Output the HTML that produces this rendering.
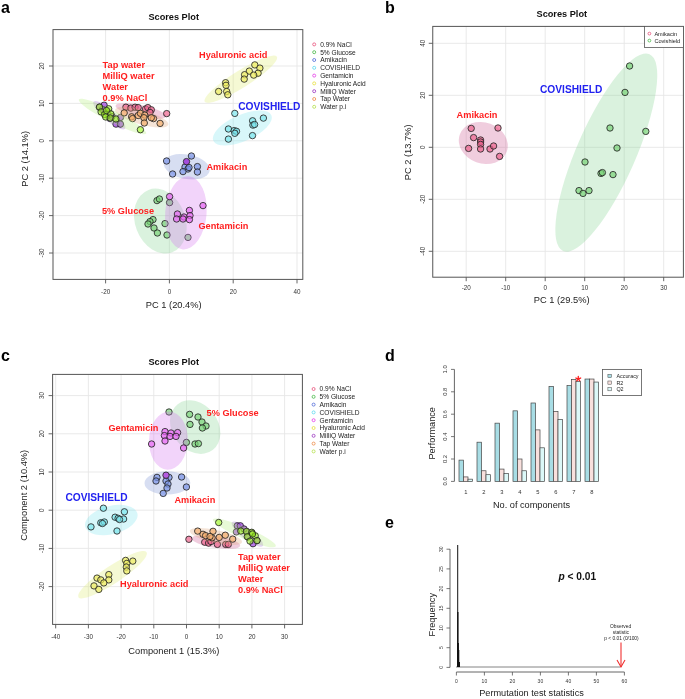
<!DOCTYPE html><html><head><meta charset="utf-8"><style>html,body{margin:0;padding:0;background:#fff;width:685px;height:699px;overflow:hidden;}svg{display:block;will-change:transform;}text{font-family:"Liberation Sans",sans-serif;}</style></head><body><svg width="685" height="699" viewBox="0 0 685 699" font-family="Liberation Sans, sans-serif">
<rect width="685" height="699" fill="#fff"/>
<rect x="53" y="29.6" width="249.8" height="249.8" fill="#fff"/>
<line x1="105.6" y1="29.6" x2="105.6" y2="279.4" stroke="#e6e6e6" stroke-width="0.9"/>
<line x1="169.4" y1="29.6" x2="169.4" y2="279.4" stroke="#e6e6e6" stroke-width="0.9"/>
<line x1="233.2" y1="29.6" x2="233.2" y2="279.4" stroke="#e6e6e6" stroke-width="0.9"/>
<line x1="297.0" y1="29.6" x2="297.0" y2="279.4" stroke="#e6e6e6" stroke-width="0.9"/>
<line x1="53" y1="66.0" x2="302.8" y2="66.0" stroke="#e6e6e6" stroke-width="0.9"/>
<line x1="53" y1="103.4" x2="302.8" y2="103.4" stroke="#e6e6e6" stroke-width="0.9"/>
<line x1="53" y1="140.8" x2="302.8" y2="140.8" stroke="#e6e6e6" stroke-width="0.9"/>
<line x1="53" y1="178.2" x2="302.8" y2="178.2" stroke="#e6e6e6" stroke-width="0.9"/>
<line x1="53" y1="215.6" x2="302.8" y2="215.6" stroke="#e6e6e6" stroke-width="0.9"/>
<line x1="53" y1="253.0" x2="302.8" y2="253.0" stroke="#e6e6e6" stroke-width="0.9"/>
<ellipse cx="140.8" cy="111.1" rx="25.8" ry="6" transform="rotate(12.1 140.8 111.1)" fill="#cd5891" fill-opacity="0.3"/>
<circle cx="125.9" cy="107.2" r="3.2" fill="#ed628d" fill-opacity="0.7" stroke="#262626" stroke-width="0.85"/>
<circle cx="130.8" cy="108.1" r="3.2" fill="#ed628d" fill-opacity="0.7" stroke="#262626" stroke-width="0.85"/>
<circle cx="135.1" cy="107.2" r="3.2" fill="#ed628d" fill-opacity="0.7" stroke="#262626" stroke-width="0.85"/>
<circle cx="138.2" cy="107.6" r="3.2" fill="#ed628d" fill-opacity="0.7" stroke="#262626" stroke-width="0.85"/>
<circle cx="145.6" cy="108.9" r="3.2" fill="#ed628d" fill-opacity="0.7" stroke="#262626" stroke-width="0.85"/>
<circle cx="147.8" cy="107.6" r="3.2" fill="#ed628d" fill-opacity="0.7" stroke="#262626" stroke-width="0.85"/>
<circle cx="151.3" cy="109.8" r="3.2" fill="#ed628d" fill-opacity="0.7" stroke="#262626" stroke-width="0.85"/>
<circle cx="150" cy="112.4" r="3.2" fill="#ed628d" fill-opacity="0.7" stroke="#262626" stroke-width="0.85"/>
<circle cx="166.7" cy="113.6" r="3.2" fill="#ed628d" fill-opacity="0.7" stroke="#262626" stroke-width="0.85"/>
<ellipse cx="160.35" cy="221.1" rx="33.4" ry="25.2" transform="rotate(69.2 160.35 221.1)" fill="#84d491" fill-opacity="0.3"/>
<circle cx="157" cy="200.6" r="3.2" fill="#79d377" fill-opacity="0.7" stroke="#262626" stroke-width="0.85"/>
<circle cx="159.4" cy="199" r="3.2" fill="#79d377" fill-opacity="0.7" stroke="#262626" stroke-width="0.85"/>
<circle cx="169.6" cy="202.6" r="3.2" fill="#79d377" fill-opacity="0.7" stroke="#262626" stroke-width="0.85"/>
<circle cx="153" cy="219.6" r="3.2" fill="#79d377" fill-opacity="0.7" stroke="#262626" stroke-width="0.85"/>
<circle cx="150" cy="221.6" r="3.2" fill="#79d377" fill-opacity="0.7" stroke="#262626" stroke-width="0.85"/>
<circle cx="148" cy="224" r="3.2" fill="#79d377" fill-opacity="0.7" stroke="#262626" stroke-width="0.85"/>
<circle cx="154" cy="228" r="3.2" fill="#79d377" fill-opacity="0.7" stroke="#262626" stroke-width="0.85"/>
<circle cx="157.4" cy="233" r="3.2" fill="#79d377" fill-opacity="0.7" stroke="#262626" stroke-width="0.85"/>
<circle cx="165" cy="223.6" r="3.2" fill="#79d377" fill-opacity="0.7" stroke="#262626" stroke-width="0.85"/>
<circle cx="167" cy="235" r="3.2" fill="#79d377" fill-opacity="0.7" stroke="#262626" stroke-width="0.85"/>
<circle cx="188" cy="237.4" r="3.2" fill="#79d377" fill-opacity="0.7" stroke="#262626" stroke-width="0.85"/>
<ellipse cx="186.7" cy="166.75" rx="23.3" ry="12.2" transform="rotate(10.8 186.7 166.75)" fill="#7a91d4" fill-opacity="0.3"/>
<circle cx="166.6" cy="161" r="3.2" fill="#7a94e8" fill-opacity="0.7" stroke="#262626" stroke-width="0.85"/>
<circle cx="191.4" cy="156" r="3.2" fill="#7a94e8" fill-opacity="0.7" stroke="#262626" stroke-width="0.85"/>
<circle cx="185" cy="167" r="3.2" fill="#7a94e8" fill-opacity="0.7" stroke="#262626" stroke-width="0.85"/>
<circle cx="188" cy="169" r="3.2" fill="#7a94e8" fill-opacity="0.7" stroke="#262626" stroke-width="0.85"/>
<circle cx="183" cy="171.6" r="3.2" fill="#7a94e8" fill-opacity="0.7" stroke="#262626" stroke-width="0.85"/>
<circle cx="197.4" cy="166.6" r="3.2" fill="#7a94e8" fill-opacity="0.7" stroke="#262626" stroke-width="0.85"/>
<circle cx="197.4" cy="172" r="3.2" fill="#7a94e8" fill-opacity="0.7" stroke="#262626" stroke-width="0.85"/>
<circle cx="172.6" cy="174" r="3.2" fill="#7a94e8" fill-opacity="0.7" stroke="#262626" stroke-width="0.85"/>
<circle cx="189" cy="167.5" r="3.2" fill="#7a94e8" fill-opacity="0.7" stroke="#262626" stroke-width="0.85"/>
<ellipse cx="242.35" cy="128" rx="31.7" ry="13.1" transform="rotate(-23.8 242.35 128)" fill="#7de4ee" fill-opacity="0.3"/>
<circle cx="234.8" cy="113.4" r="3.2" fill="#7ae6ec" fill-opacity="0.7" stroke="#262626" stroke-width="0.85"/>
<circle cx="263.4" cy="118.1" r="3.2" fill="#7ae6ec" fill-opacity="0.7" stroke="#262626" stroke-width="0.85"/>
<circle cx="252.6" cy="120.8" r="3.2" fill="#7ae6ec" fill-opacity="0.7" stroke="#262626" stroke-width="0.85"/>
<circle cx="252.9" cy="125.1" r="3.2" fill="#7ae6ec" fill-opacity="0.7" stroke="#262626" stroke-width="0.85"/>
<circle cx="254.6" cy="124.5" r="3.2" fill="#7ae6ec" fill-opacity="0.7" stroke="#262626" stroke-width="0.85"/>
<circle cx="228.4" cy="129" r="3.2" fill="#7ae6ec" fill-opacity="0.7" stroke="#262626" stroke-width="0.85"/>
<circle cx="234.2" cy="130.6" r="3.2" fill="#7ae6ec" fill-opacity="0.7" stroke="#262626" stroke-width="0.85"/>
<circle cx="236.5" cy="131.3" r="3.2" fill="#7ae6ec" fill-opacity="0.7" stroke="#262626" stroke-width="0.85"/>
<circle cx="234.8" cy="133.3" r="3.2" fill="#7ae6ec" fill-opacity="0.7" stroke="#262626" stroke-width="0.85"/>
<circle cx="228.4" cy="139.1" r="3.2" fill="#7ae6ec" fill-opacity="0.7" stroke="#262626" stroke-width="0.85"/>
<circle cx="252.5" cy="135.6" r="3.2" fill="#7ae6ec" fill-opacity="0.7" stroke="#262626" stroke-width="0.85"/>
<ellipse cx="185.9" cy="212.9" rx="36.7" ry="20.7" transform="rotate(94.8 185.9 212.9)" fill="#d470ee" fill-opacity="0.3"/>
<circle cx="169.6" cy="196.6" r="3.2" fill="#e866f3" fill-opacity="0.7" stroke="#262626" stroke-width="0.85"/>
<circle cx="203" cy="205.6" r="3.2" fill="#e866f3" fill-opacity="0.7" stroke="#262626" stroke-width="0.85"/>
<circle cx="189.4" cy="210.4" r="3.2" fill="#e866f3" fill-opacity="0.7" stroke="#262626" stroke-width="0.85"/>
<circle cx="177.4" cy="214" r="3.2" fill="#e866f3" fill-opacity="0.7" stroke="#262626" stroke-width="0.85"/>
<circle cx="176.6" cy="219" r="3.2" fill="#e866f3" fill-opacity="0.7" stroke="#262626" stroke-width="0.85"/>
<circle cx="184" cy="217" r="3.2" fill="#e866f3" fill-opacity="0.7" stroke="#262626" stroke-width="0.85"/>
<circle cx="190" cy="215.6" r="3.2" fill="#e866f3" fill-opacity="0.7" stroke="#262626" stroke-width="0.85"/>
<circle cx="189.4" cy="219.6" r="3.2" fill="#e866f3" fill-opacity="0.7" stroke="#262626" stroke-width="0.85"/>
<circle cx="183" cy="219" r="3.2" fill="#e866f3" fill-opacity="0.7" stroke="#262626" stroke-width="0.85"/>
<ellipse cx="240.8" cy="79.2" rx="42.5" ry="8.5" transform="rotate(-31.9 240.8 79.2)" fill="#deeb70" fill-opacity="0.3"/>
<circle cx="254.8" cy="64.9" r="3.2" fill="#eeec5f" fill-opacity="0.7" stroke="#262626" stroke-width="0.85"/>
<circle cx="259.9" cy="68.1" r="3.2" fill="#eeec5f" fill-opacity="0.7" stroke="#262626" stroke-width="0.85"/>
<circle cx="249.3" cy="71.1" r="3.2" fill="#eeec5f" fill-opacity="0.7" stroke="#262626" stroke-width="0.85"/>
<circle cx="258.1" cy="73.2" r="3.2" fill="#eeec5f" fill-opacity="0.7" stroke="#262626" stroke-width="0.85"/>
<circle cx="253.7" cy="75.1" r="3.2" fill="#eeec5f" fill-opacity="0.7" stroke="#262626" stroke-width="0.85"/>
<circle cx="244.6" cy="74.7" r="3.2" fill="#eeec5f" fill-opacity="0.7" stroke="#262626" stroke-width="0.85"/>
<circle cx="244.2" cy="79.1" r="3.2" fill="#eeec5f" fill-opacity="0.7" stroke="#262626" stroke-width="0.85"/>
<circle cx="225.6" cy="82.7" r="3.2" fill="#eeec5f" fill-opacity="0.7" stroke="#262626" stroke-width="0.85"/>
<circle cx="226" cy="85.3" r="3.2" fill="#eeec5f" fill-opacity="0.7" stroke="#262626" stroke-width="0.85"/>
<circle cx="218.6" cy="91.5" r="3.2" fill="#eeec5f" fill-opacity="0.7" stroke="#262626" stroke-width="0.85"/>
<circle cx="226.7" cy="91.5" r="3.2" fill="#eeec5f" fill-opacity="0.7" stroke="#262626" stroke-width="0.85"/>
<circle cx="227.8" cy="94.8" r="3.2" fill="#eeec5f" fill-opacity="0.7" stroke="#262626" stroke-width="0.85"/>
<ellipse cx="109.3" cy="115.2" rx="20.7" ry="5.6" transform="rotate(41 109.3 115.2)" fill="#9e69d4" fill-opacity="0.3"/>
<circle cx="104.1" cy="105.2" r="3.2" fill="#a043e1" fill-opacity="0.7" stroke="#262626" stroke-width="0.85"/>
<circle cx="99.4" cy="107.2" r="3.2" fill="#a043e1" fill-opacity="0.7" stroke="#262626" stroke-width="0.85"/>
<circle cx="109.9" cy="118.4" r="3.2" fill="#a043e1" fill-opacity="0.7" stroke="#262626" stroke-width="0.85"/>
<circle cx="104.5" cy="110.5" r="3.2" fill="#a043e1" fill-opacity="0.7" stroke="#262626" stroke-width="0.85"/>
<circle cx="107.5" cy="113.5" r="3.2" fill="#a043e1" fill-opacity="0.7" stroke="#262626" stroke-width="0.85"/>
<circle cx="102.5" cy="109.5" r="3.2" fill="#a043e1" fill-opacity="0.7" stroke="#262626" stroke-width="0.85"/>
<circle cx="112" cy="116.5" r="3.2" fill="#a043e1" fill-opacity="0.7" stroke="#262626" stroke-width="0.85"/>
<circle cx="120.4" cy="117.5" r="3.2" fill="#a043e1" fill-opacity="0.7" stroke="#262626" stroke-width="0.85"/>
<circle cx="116" cy="124.1" r="3.2" fill="#a043e1" fill-opacity="0.7" stroke="#262626" stroke-width="0.85"/>
<circle cx="120.4" cy="124.1" r="3.2" fill="#a043e1" fill-opacity="0.7" stroke="#262626" stroke-width="0.85"/>
<ellipse cx="141.7" cy="117.2" rx="27.7" ry="7.3" transform="rotate(16 141.7 117.2)" fill="#dea57a" fill-opacity="0.3"/>
<circle cx="124.2" cy="112.9" r="3.2" fill="#f5ae6c" fill-opacity="0.7" stroke="#262626" stroke-width="0.85"/>
<circle cx="131.6" cy="116.8" r="3.2" fill="#f5ae6c" fill-opacity="0.7" stroke="#262626" stroke-width="0.85"/>
<circle cx="132.5" cy="118.6" r="3.2" fill="#f5ae6c" fill-opacity="0.7" stroke="#262626" stroke-width="0.85"/>
<circle cx="138.2" cy="115.5" r="3.2" fill="#f5ae6c" fill-opacity="0.7" stroke="#262626" stroke-width="0.85"/>
<circle cx="140.4" cy="113.3" r="3.2" fill="#f5ae6c" fill-opacity="0.7" stroke="#262626" stroke-width="0.85"/>
<circle cx="144.8" cy="115.1" r="3.2" fill="#f5ae6c" fill-opacity="0.7" stroke="#262626" stroke-width="0.85"/>
<circle cx="143.9" cy="117.7" r="3.2" fill="#f5ae6c" fill-opacity="0.7" stroke="#262626" stroke-width="0.85"/>
<circle cx="153.5" cy="118.6" r="3.2" fill="#f5ae6c" fill-opacity="0.7" stroke="#262626" stroke-width="0.85"/>
<circle cx="151.3" cy="117.7" r="3.2" fill="#f5ae6c" fill-opacity="0.7" stroke="#262626" stroke-width="0.85"/>
<circle cx="144.3" cy="123" r="3.2" fill="#f5ae6c" fill-opacity="0.7" stroke="#262626" stroke-width="0.85"/>
<circle cx="160.1" cy="123.4" r="3.2" fill="#f5ae6c" fill-opacity="0.7" stroke="#262626" stroke-width="0.85"/>
<ellipse cx="112.5" cy="116.5" rx="37.7" ry="5.8" transform="rotate(26.7 112.5 116.5)" fill="#b2ee7a" fill-opacity="0.3"/>
<circle cx="99.5" cy="107.1" r="3.2" fill="#9cfa18" fill-opacity="0.55" stroke="#262626" stroke-width="0.85"/>
<circle cx="108.7" cy="108.8" r="3.2" fill="#9cfa18" fill-opacity="0.55" stroke="#262626" stroke-width="0.85"/>
<circle cx="101.1" cy="111.9" r="3.2" fill="#9cfa18" fill-opacity="0.55" stroke="#262626" stroke-width="0.85"/>
<circle cx="104.6" cy="114.4" r="3.2" fill="#9cfa18" fill-opacity="0.55" stroke="#262626" stroke-width="0.85"/>
<circle cx="110.8" cy="113.9" r="3.2" fill="#9cfa18" fill-opacity="0.55" stroke="#262626" stroke-width="0.85"/>
<circle cx="105.7" cy="117" r="3.2" fill="#9cfa18" fill-opacity="0.55" stroke="#262626" stroke-width="0.85"/>
<circle cx="110.3" cy="118" r="3.2" fill="#9cfa18" fill-opacity="0.55" stroke="#262626" stroke-width="0.85"/>
<circle cx="115.9" cy="119" r="3.2" fill="#9cfa18" fill-opacity="0.55" stroke="#262626" stroke-width="0.85"/>
<circle cx="140.4" cy="129.7" r="3.2" fill="#9cfa18" fill-opacity="0.55" stroke="#262626" stroke-width="0.85"/>
<circle cx="106.5" cy="110.5" r="3.2" fill="#9cfa18" fill-opacity="0.55" stroke="#262626" stroke-width="0.85"/>
<circle cx="186.5" cy="161.6" r="3.2" fill="#a44cdc" stroke="#262626" stroke-width="0.85"/>
<rect x="53" y="29.6" width="249.8" height="249.8" fill="none" stroke="#555" stroke-width="1"/>
<line x1="105.6" y1="279.4" x2="105.6" y2="283.4" stroke="#555" stroke-width="0.9"/>
<text x="105.6" y="294.4" font-size="6.3" text-anchor="middle" fill="#333">-20</text>
<line x1="169.4" y1="279.4" x2="169.4" y2="283.4" stroke="#555" stroke-width="0.9"/>
<text x="169.4" y="294.4" font-size="6.3" text-anchor="middle" fill="#333">0</text>
<line x1="233.2" y1="279.4" x2="233.2" y2="283.4" stroke="#555" stroke-width="0.9"/>
<text x="233.2" y="294.4" font-size="6.3" text-anchor="middle" fill="#333">20</text>
<line x1="297.0" y1="279.4" x2="297.0" y2="283.4" stroke="#555" stroke-width="0.9"/>
<text x="297.0" y="294.4" font-size="6.3" text-anchor="middle" fill="#333">40</text>
<line x1="49" y1="66.0" x2="53" y2="66.0" stroke="#555" stroke-width="0.9"/>
<text x="44.4" y="66.0" font-size="6.3" text-anchor="middle" fill="#333" transform="rotate(-90 44.4 66.0)">20</text>
<line x1="49" y1="103.4" x2="53" y2="103.4" stroke="#555" stroke-width="0.9"/>
<text x="44.4" y="103.4" font-size="6.3" text-anchor="middle" fill="#333" transform="rotate(-90 44.4 103.4)">10</text>
<line x1="49" y1="140.8" x2="53" y2="140.8" stroke="#555" stroke-width="0.9"/>
<text x="44.4" y="140.8" font-size="6.3" text-anchor="middle" fill="#333" transform="rotate(-90 44.4 140.8)">0</text>
<line x1="49" y1="178.2" x2="53" y2="178.2" stroke="#555" stroke-width="0.9"/>
<text x="44.4" y="178.2" font-size="6.3" text-anchor="middle" fill="#333" transform="rotate(-90 44.4 178.2)">-10</text>
<line x1="49" y1="215.6" x2="53" y2="215.6" stroke="#555" stroke-width="0.9"/>
<text x="44.4" y="215.6" font-size="6.3" text-anchor="middle" fill="#333" transform="rotate(-90 44.4 215.6)">-20</text>
<line x1="49" y1="253.0" x2="53" y2="253.0" stroke="#555" stroke-width="0.9"/>
<text x="44.4" y="253.0" font-size="6.3" text-anchor="middle" fill="#333" transform="rotate(-90 44.4 253.0)">-30</text>
<text x="173.7" y="20" font-size="9.2" text-anchor="middle" font-weight="bold" fill="#111">Scores Plot</text>
<text x="173.7" y="308" font-size="9.3" text-anchor="middle" fill="#222">PC 1 (20.4%)</text>
<text x="27.9" y="158.9" font-size="9.3" text-anchor="middle" fill="#222" transform="rotate(-90 27.9 158.9)">PC 2 (14.1%)</text>
<circle cx="314.2" cy="44.4" r="1.5" fill="none" stroke="#e8507a" stroke-width="0.8"/>
<text x="320.2" y="46.7" font-size="6.6" text-anchor="start" fill="#222">0.9% NaCl</text>
<circle cx="314.2" cy="52.2" r="1.5" fill="none" stroke="#46b846" stroke-width="0.8"/>
<text x="320.2" y="54.5" font-size="6.6" text-anchor="start" fill="#222">5% Glucose</text>
<circle cx="314.2" cy="60.0" r="1.5" fill="none" stroke="#4f6ad8" stroke-width="0.8"/>
<text x="320.2" y="62.3" font-size="6.6" text-anchor="start" fill="#222">Amikacin</text>
<circle cx="314.2" cy="67.8" r="1.5" fill="none" stroke="#5ad8f0" stroke-width="0.8"/>
<text x="320.2" y="70.1" font-size="6.6" text-anchor="start" fill="#222">COVISHIELD</text>
<circle cx="314.2" cy="75.6" r="1.5" fill="none" stroke="#e43be6" stroke-width="0.8"/>
<text x="320.2" y="77.9" font-size="6.6" text-anchor="start" fill="#222">Gentamicin</text>
<circle cx="314.2" cy="83.4" r="1.5" fill="none" stroke="#e6df3a" stroke-width="0.8"/>
<text x="320.2" y="85.7" font-size="6.6" text-anchor="start" fill="#222">Hyaluronic Acid</text>
<circle cx="314.2" cy="91.2" r="1.5" fill="none" stroke="#9a35c0" stroke-width="0.8"/>
<text x="320.2" y="93.5" font-size="6.6" text-anchor="start" fill="#222">MilliQ Water</text>
<circle cx="314.2" cy="99.0" r="1.5" fill="none" stroke="#ee8a46" stroke-width="0.8"/>
<text x="320.2" y="101.3" font-size="6.6" text-anchor="start" fill="#222">Tap Water</text>
<circle cx="314.2" cy="106.8" r="1.5" fill="none" stroke="#b4e04a" stroke-width="0.8"/>
<text x="320.2" y="109.1" font-size="6.6" text-anchor="start" fill="#222">Water p.i</text>
<text x="102.6" y="68.2" font-size="9.25" text-anchor="start" font-weight="bold" fill="#ff2020">Tap water</text>
<text x="102.6" y="79.05" font-size="9.25" text-anchor="start" font-weight="bold" fill="#ff2020">MilliQ water</text>
<text x="102.6" y="89.9" font-size="9.25" text-anchor="start" font-weight="bold" fill="#ff2020">Water</text>
<text x="102.6" y="100.75" font-size="9.25" text-anchor="start" font-weight="bold" fill="#ff2020">0.9% NaCl</text>
<text x="199" y="58.2" font-size="9.2" text-anchor="start" font-weight="bold" fill="#ff2020">Hyaluronic acid</text>
<text x="238.2" y="109.5" font-size="10.2" text-anchor="start" font-weight="bold" fill="#2121f0">COVISHIELD</text>
<text x="206.4" y="170" font-size="9.2" text-anchor="start" font-weight="bold" fill="#ff2020">Amikacin</text>
<text x="102" y="213.8" font-size="9.2" text-anchor="start" font-weight="bold" fill="#ff2020">5% Glucose</text>
<text x="198.4" y="228.8" font-size="9.2" text-anchor="start" font-weight="bold" fill="#ff2020">Gentamicin</text>
<rect x="432.75" y="26.4" width="250.65" height="250.8" fill="#fff"/>
<line x1="466.2" y1="26.4" x2="466.2" y2="277.2" stroke="#e6e6e6" stroke-width="0.9"/>
<line x1="505.7" y1="26.4" x2="505.7" y2="277.2" stroke="#e6e6e6" stroke-width="0.9"/>
<line x1="545.2" y1="26.4" x2="545.2" y2="277.2" stroke="#e6e6e6" stroke-width="0.9"/>
<line x1="584.7" y1="26.4" x2="584.7" y2="277.2" stroke="#e6e6e6" stroke-width="0.9"/>
<line x1="624.2" y1="26.4" x2="624.2" y2="277.2" stroke="#e6e6e6" stroke-width="0.9"/>
<line x1="663.7" y1="26.4" x2="663.7" y2="277.2" stroke="#e6e6e6" stroke-width="0.9"/>
<line x1="432.75" y1="43.3" x2="683.4" y2="43.3" stroke="#e6e6e6" stroke-width="0.9"/>
<line x1="432.75" y1="95.3" x2="683.4" y2="95.3" stroke="#e6e6e6" stroke-width="0.9"/>
<line x1="432.75" y1="147.3" x2="683.4" y2="147.3" stroke="#e6e6e6" stroke-width="0.9"/>
<line x1="432.75" y1="199.3" x2="683.4" y2="199.3" stroke="#e6e6e6" stroke-width="0.9"/>
<line x1="432.75" y1="251.3" x2="683.4" y2="251.3" stroke="#e6e6e6" stroke-width="0.9"/>
<ellipse cx="483.3" cy="143" rx="25" ry="20.5" transform="rotate(20 483.3 143)" fill="#cd5891" fill-opacity="0.3"/>
<ellipse cx="606.3" cy="152.6" rx="107.5" ry="29.5" transform="rotate(-66.3 606.3 152.6)" fill="#84d491" fill-opacity="0.3"/>
<circle cx="471.2" cy="128.4" r="3.2" fill="#ed628d" fill-opacity="0.7" stroke="#262626" stroke-width="0.85"/>
<circle cx="498" cy="128" r="3.2" fill="#ed628d" fill-opacity="0.7" stroke="#262626" stroke-width="0.85"/>
<circle cx="473.6" cy="137.6" r="3.2" fill="#ed628d" fill-opacity="0.7" stroke="#262626" stroke-width="0.85"/>
<circle cx="480.6" cy="140" r="3.2" fill="#ed628d" fill-opacity="0.7" stroke="#262626" stroke-width="0.85"/>
<circle cx="480.6" cy="142" r="3.2" fill="#ed628d" fill-opacity="0.7" stroke="#262626" stroke-width="0.85"/>
<circle cx="480.6" cy="144.4" r="3.2" fill="#ed628d" fill-opacity="0.7" stroke="#262626" stroke-width="0.85"/>
<circle cx="468.6" cy="148.4" r="3.2" fill="#ed628d" fill-opacity="0.7" stroke="#262626" stroke-width="0.85"/>
<circle cx="480.6" cy="149" r="3.2" fill="#ed628d" fill-opacity="0.7" stroke="#262626" stroke-width="0.85"/>
<circle cx="490" cy="149" r="3.2" fill="#ed628d" fill-opacity="0.7" stroke="#262626" stroke-width="0.85"/>
<circle cx="493.6" cy="146" r="3.2" fill="#ed628d" fill-opacity="0.7" stroke="#262626" stroke-width="0.85"/>
<circle cx="499.6" cy="156.4" r="3.2" fill="#ed628d" fill-opacity="0.7" stroke="#262626" stroke-width="0.85"/>
<circle cx="629.6" cy="66" r="3.2" fill="#79d377" fill-opacity="0.7" stroke="#262626" stroke-width="0.85"/>
<circle cx="625" cy="92.4" r="3.2" fill="#79d377" fill-opacity="0.7" stroke="#262626" stroke-width="0.85"/>
<circle cx="610" cy="128" r="3.2" fill="#79d377" fill-opacity="0.7" stroke="#262626" stroke-width="0.85"/>
<circle cx="645.8" cy="131.4" r="3.2" fill="#79d377" fill-opacity="0.7" stroke="#262626" stroke-width="0.85"/>
<circle cx="617" cy="148" r="3.2" fill="#79d377" fill-opacity="0.7" stroke="#262626" stroke-width="0.85"/>
<circle cx="585" cy="162" r="3.2" fill="#79d377" fill-opacity="0.7" stroke="#262626" stroke-width="0.85"/>
<circle cx="601" cy="173.4" r="3.2" fill="#79d377" fill-opacity="0.7" stroke="#262626" stroke-width="0.85"/>
<circle cx="602.4" cy="172.6" r="3.2" fill="#79d377" fill-opacity="0.7" stroke="#262626" stroke-width="0.85"/>
<circle cx="613" cy="174.6" r="3.2" fill="#79d377" fill-opacity="0.7" stroke="#262626" stroke-width="0.85"/>
<circle cx="579" cy="190.6" r="3.2" fill="#79d377" fill-opacity="0.7" stroke="#262626" stroke-width="0.85"/>
<circle cx="583" cy="193.4" r="3.2" fill="#79d377" fill-opacity="0.7" stroke="#262626" stroke-width="0.85"/>
<circle cx="589" cy="190.6" r="3.2" fill="#79d377" fill-opacity="0.7" stroke="#262626" stroke-width="0.85"/>
<rect x="432.75" y="26.4" width="250.65" height="250.8" fill="none" stroke="#555" stroke-width="1"/>
<line x1="466.2" y1="277.2" x2="466.2" y2="281.2" stroke="#555" stroke-width="0.9"/>
<text x="466.2" y="290.4" font-size="6.3" text-anchor="middle" fill="#333">-20</text>
<line x1="505.7" y1="277.2" x2="505.7" y2="281.2" stroke="#555" stroke-width="0.9"/>
<text x="505.7" y="290.4" font-size="6.3" text-anchor="middle" fill="#333">-10</text>
<line x1="545.2" y1="277.2" x2="545.2" y2="281.2" stroke="#555" stroke-width="0.9"/>
<text x="545.2" y="290.4" font-size="6.3" text-anchor="middle" fill="#333">0</text>
<line x1="584.7" y1="277.2" x2="584.7" y2="281.2" stroke="#555" stroke-width="0.9"/>
<text x="584.7" y="290.4" font-size="6.3" text-anchor="middle" fill="#333">10</text>
<line x1="624.2" y1="277.2" x2="624.2" y2="281.2" stroke="#555" stroke-width="0.9"/>
<text x="624.2" y="290.4" font-size="6.3" text-anchor="middle" fill="#333">20</text>
<line x1="663.7" y1="277.2" x2="663.7" y2="281.2" stroke="#555" stroke-width="0.9"/>
<text x="663.7" y="290.4" font-size="6.3" text-anchor="middle" fill="#333">30</text>
<line x1="428.75" y1="43.3" x2="432.75" y2="43.3" stroke="#555" stroke-width="0.9"/>
<text x="425.15" y="43.3" font-size="6.3" text-anchor="middle" fill="#333" transform="rotate(-90 425.15 43.3)">40</text>
<line x1="428.75" y1="95.3" x2="432.75" y2="95.3" stroke="#555" stroke-width="0.9"/>
<text x="425.15" y="95.3" font-size="6.3" text-anchor="middle" fill="#333" transform="rotate(-90 425.15 95.3)">20</text>
<line x1="428.75" y1="147.3" x2="432.75" y2="147.3" stroke="#555" stroke-width="0.9"/>
<text x="425.15" y="147.3" font-size="6.3" text-anchor="middle" fill="#333" transform="rotate(-90 425.15 147.3)">0</text>
<line x1="428.75" y1="199.3" x2="432.75" y2="199.3" stroke="#555" stroke-width="0.9"/>
<text x="425.15" y="199.3" font-size="6.3" text-anchor="middle" fill="#333" transform="rotate(-90 425.15 199.3)">-20</text>
<line x1="428.75" y1="251.3" x2="432.75" y2="251.3" stroke="#555" stroke-width="0.9"/>
<text x="425.15" y="251.3" font-size="6.3" text-anchor="middle" fill="#333" transform="rotate(-90 425.15 251.3)">-40</text>
<rect x="644.6" y="26.4" width="38.8" height="21" fill="#fff" stroke="#555" stroke-width="0.8"/>
<circle cx="649.4" cy="33.6" r="1.4" fill="none" stroke="#e8507a" stroke-width="0.8"/>
<circle cx="649.4" cy="40.6" r="1.4" fill="none" stroke="#46b846" stroke-width="0.8"/>
<text x="654.4" y="35.8" font-size="5.6" text-anchor="start" fill="#222">Amikacin</text>
<text x="654.4" y="42.8" font-size="5.6" text-anchor="start" fill="#222">Covishield</text>
<text x="561.8" y="17.4" font-size="9.2" text-anchor="middle" font-weight="bold" fill="#111">Scores Plot</text>
<text x="561.6" y="303" font-size="9.3" text-anchor="middle" fill="#222">PC 1 (29.5%)</text>
<text x="410.9" y="152.4" font-size="9.3" text-anchor="middle" fill="#222" transform="rotate(-90 410.9 152.4)">PC 2 (13.7%)</text>
<text x="456.6" y="118" font-size="9.2" text-anchor="start" font-weight="bold" fill="#ff2020">Amikacin</text>
<text x="540" y="93" font-size="10.2" text-anchor="start" font-weight="bold" fill="#2121f0">COVISHIELD</text>
<rect x="52.6" y="374.4" width="249.8" height="250.0" fill="#fff"/>
<line x1="55.7" y1="374.4" x2="55.7" y2="624.4" stroke="#e6e6e6" stroke-width="0.9"/>
<line x1="88.4" y1="374.4" x2="88.4" y2="624.4" stroke="#e6e6e6" stroke-width="0.9"/>
<line x1="121.1" y1="374.4" x2="121.1" y2="624.4" stroke="#e6e6e6" stroke-width="0.9"/>
<line x1="153.8" y1="374.4" x2="153.8" y2="624.4" stroke="#e6e6e6" stroke-width="0.9"/>
<line x1="186.5" y1="374.4" x2="186.5" y2="624.4" stroke="#e6e6e6" stroke-width="0.9"/>
<line x1="219.2" y1="374.4" x2="219.2" y2="624.4" stroke="#e6e6e6" stroke-width="0.9"/>
<line x1="251.9" y1="374.4" x2="251.9" y2="624.4" stroke="#e6e6e6" stroke-width="0.9"/>
<line x1="284.6" y1="374.4" x2="284.6" y2="624.4" stroke="#e6e6e6" stroke-width="0.9"/>
<line x1="52.6" y1="395.6" x2="302.4" y2="395.6" stroke="#e6e6e6" stroke-width="0.9"/>
<line x1="52.6" y1="433.8" x2="302.4" y2="433.8" stroke="#e6e6e6" stroke-width="0.9"/>
<line x1="52.6" y1="472.0" x2="302.4" y2="472.0" stroke="#e6e6e6" stroke-width="0.9"/>
<line x1="52.6" y1="510.2" x2="302.4" y2="510.2" stroke="#e6e6e6" stroke-width="0.9"/>
<line x1="52.6" y1="548.4" x2="302.4" y2="548.4" stroke="#e6e6e6" stroke-width="0.9"/>
<line x1="52.6" y1="586.6" x2="302.4" y2="586.6" stroke="#e6e6e6" stroke-width="0.9"/>
<ellipse cx="215.9" cy="542" rx="24.6" ry="5.9" transform="rotate(8.7 215.9 542)" fill="#cd5891" fill-opacity="0.3"/>
<circle cx="188.9" cy="539.3" r="3.2" fill="#ed628d" fill-opacity="0.7" stroke="#262626" stroke-width="0.85"/>
<circle cx="204.7" cy="542.2" r="3.2" fill="#ed628d" fill-opacity="0.7" stroke="#262626" stroke-width="0.85"/>
<circle cx="208.6" cy="543.1" r="3.2" fill="#ed628d" fill-opacity="0.7" stroke="#262626" stroke-width="0.85"/>
<circle cx="217.4" cy="544.4" r="3.2" fill="#ed628d" fill-opacity="0.7" stroke="#262626" stroke-width="0.85"/>
<circle cx="225.7" cy="544.4" r="3.2" fill="#ed628d" fill-opacity="0.7" stroke="#262626" stroke-width="0.85"/>
<circle cx="228.3" cy="544.4" r="3.2" fill="#ed628d" fill-opacity="0.7" stroke="#262626" stroke-width="0.85"/>
<circle cx="211" cy="541.5" r="3.2" fill="#ed628d" fill-opacity="0.7" stroke="#262626" stroke-width="0.85"/>
<ellipse cx="195.2" cy="427.1" rx="28.85" ry="22.8" transform="rotate(52.7 195.2 427.1)" fill="#84d491" fill-opacity="0.3"/>
<circle cx="169" cy="412" r="3.2" fill="#79d377" fill-opacity="0.7" stroke="#262626" stroke-width="0.85"/>
<circle cx="189.6" cy="414.4" r="3.2" fill="#79d377" fill-opacity="0.7" stroke="#262626" stroke-width="0.85"/>
<circle cx="198" cy="417" r="3.2" fill="#79d377" fill-opacity="0.7" stroke="#262626" stroke-width="0.85"/>
<circle cx="202" cy="422" r="3.2" fill="#79d377" fill-opacity="0.7" stroke="#262626" stroke-width="0.85"/>
<circle cx="206" cy="426" r="3.2" fill="#79d377" fill-opacity="0.7" stroke="#262626" stroke-width="0.85"/>
<circle cx="202.4" cy="428" r="3.2" fill="#79d377" fill-opacity="0.7" stroke="#262626" stroke-width="0.85"/>
<circle cx="190" cy="424.4" r="3.2" fill="#79d377" fill-opacity="0.7" stroke="#262626" stroke-width="0.85"/>
<circle cx="186.4" cy="442.4" r="3.2" fill="#79d377" fill-opacity="0.7" stroke="#262626" stroke-width="0.85"/>
<circle cx="195" cy="444" r="3.2" fill="#79d377" fill-opacity="0.7" stroke="#262626" stroke-width="0.85"/>
<circle cx="198.4" cy="443.6" r="3.2" fill="#79d377" fill-opacity="0.7" stroke="#262626" stroke-width="0.85"/>
<ellipse cx="167.4" cy="482.95" rx="22.9" ry="11.6" transform="rotate(-0.7 167.4 482.95)" fill="#7a91d4" fill-opacity="0.3"/>
<circle cx="157" cy="477.4" r="3.2" fill="#7a94e8" fill-opacity="0.7" stroke="#262626" stroke-width="0.85"/>
<circle cx="156" cy="481" r="3.2" fill="#7a94e8" fill-opacity="0.7" stroke="#262626" stroke-width="0.85"/>
<circle cx="169" cy="477.4" r="3.2" fill="#7a94e8" fill-opacity="0.7" stroke="#262626" stroke-width="0.85"/>
<circle cx="166" cy="481" r="3.2" fill="#7a94e8" fill-opacity="0.7" stroke="#262626" stroke-width="0.85"/>
<circle cx="168" cy="484" r="3.2" fill="#7a94e8" fill-opacity="0.7" stroke="#262626" stroke-width="0.85"/>
<circle cx="167" cy="488" r="3.2" fill="#7a94e8" fill-opacity="0.7" stroke="#262626" stroke-width="0.85"/>
<circle cx="181.6" cy="477" r="3.2" fill="#7a94e8" fill-opacity="0.7" stroke="#262626" stroke-width="0.85"/>
<circle cx="186.4" cy="487" r="3.2" fill="#7a94e8" fill-opacity="0.7" stroke="#262626" stroke-width="0.85"/>
<circle cx="163.2" cy="493.4" r="3.2" fill="#7a94e8" fill-opacity="0.7" stroke="#262626" stroke-width="0.85"/>
<ellipse cx="111.3" cy="520.05" rx="26.9" ry="14.1" transform="rotate(-14.4 111.3 520.05)" fill="#7de4ee" fill-opacity="0.3"/>
<circle cx="103.4" cy="508.2" r="3.2" fill="#7ae6ec" fill-opacity="0.7" stroke="#262626" stroke-width="0.85"/>
<circle cx="124.4" cy="511.8" r="3.2" fill="#7ae6ec" fill-opacity="0.7" stroke="#262626" stroke-width="0.85"/>
<circle cx="115.1" cy="517.2" r="3.2" fill="#7ae6ec" fill-opacity="0.7" stroke="#262626" stroke-width="0.85"/>
<circle cx="118.1" cy="518.3" r="3.2" fill="#7ae6ec" fill-opacity="0.7" stroke="#262626" stroke-width="0.85"/>
<circle cx="123.6" cy="519" r="3.2" fill="#7ae6ec" fill-opacity="0.7" stroke="#262626" stroke-width="0.85"/>
<circle cx="119.5" cy="519.5" r="3.2" fill="#7ae6ec" fill-opacity="0.7" stroke="#262626" stroke-width="0.85"/>
<circle cx="100.8" cy="522.8" r="3.2" fill="#7ae6ec" fill-opacity="0.7" stroke="#262626" stroke-width="0.85"/>
<circle cx="104.3" cy="522" r="3.2" fill="#7ae6ec" fill-opacity="0.7" stroke="#262626" stroke-width="0.85"/>
<circle cx="102.5" cy="523.5" r="3.2" fill="#7ae6ec" fill-opacity="0.7" stroke="#262626" stroke-width="0.85"/>
<circle cx="91" cy="526.9" r="3.2" fill="#7ae6ec" fill-opacity="0.7" stroke="#262626" stroke-width="0.85"/>
<circle cx="117" cy="531" r="3.2" fill="#7ae6ec" fill-opacity="0.7" stroke="#262626" stroke-width="0.85"/>
<ellipse cx="168.4" cy="440.6" rx="29.1" ry="19.4" transform="rotate(-87.9 168.4 440.6)" fill="#d470ee" fill-opacity="0.3"/>
<circle cx="165" cy="431.6" r="3.2" fill="#e866f3" fill-opacity="0.7" stroke="#262626" stroke-width="0.85"/>
<circle cx="171" cy="433" r="3.2" fill="#e866f3" fill-opacity="0.7" stroke="#262626" stroke-width="0.85"/>
<circle cx="177.6" cy="432.6" r="3.2" fill="#e866f3" fill-opacity="0.7" stroke="#262626" stroke-width="0.85"/>
<circle cx="164.4" cy="435.6" r="3.2" fill="#e866f3" fill-opacity="0.7" stroke="#262626" stroke-width="0.85"/>
<circle cx="170" cy="436.4" r="3.2" fill="#e866f3" fill-opacity="0.7" stroke="#262626" stroke-width="0.85"/>
<circle cx="176" cy="436.4" r="3.2" fill="#e866f3" fill-opacity="0.7" stroke="#262626" stroke-width="0.85"/>
<circle cx="165" cy="441" r="3.2" fill="#e866f3" fill-opacity="0.7" stroke="#262626" stroke-width="0.85"/>
<circle cx="151.6" cy="444" r="3.2" fill="#e866f3" fill-opacity="0.7" stroke="#262626" stroke-width="0.85"/>
<circle cx="183.6" cy="448" r="3.2" fill="#e866f3" fill-opacity="0.7" stroke="#262626" stroke-width="0.85"/>
<ellipse cx="112.5" cy="574.7" rx="40.9" ry="8.8" transform="rotate(-33.4 112.5 574.7)" fill="#deeb70" fill-opacity="0.3"/>
<circle cx="125.6" cy="560.4" r="3.2" fill="#eeec5f" fill-opacity="0.7" stroke="#262626" stroke-width="0.85"/>
<circle cx="132.8" cy="561.1" r="3.2" fill="#eeec5f" fill-opacity="0.7" stroke="#262626" stroke-width="0.85"/>
<circle cx="126.8" cy="563.4" r="3.2" fill="#eeec5f" fill-opacity="0.7" stroke="#262626" stroke-width="0.85"/>
<circle cx="126.3" cy="567.1" r="3.2" fill="#eeec5f" fill-opacity="0.7" stroke="#262626" stroke-width="0.85"/>
<circle cx="126.8" cy="570.9" r="3.2" fill="#eeec5f" fill-opacity="0.7" stroke="#262626" stroke-width="0.85"/>
<circle cx="108.8" cy="574.6" r="3.2" fill="#eeec5f" fill-opacity="0.7" stroke="#262626" stroke-width="0.85"/>
<circle cx="108.8" cy="579.9" r="3.2" fill="#eeec5f" fill-opacity="0.7" stroke="#262626" stroke-width="0.85"/>
<circle cx="97" cy="578.1" r="3.2" fill="#eeec5f" fill-opacity="0.7" stroke="#262626" stroke-width="0.85"/>
<circle cx="100.8" cy="579.9" r="3.2" fill="#eeec5f" fill-opacity="0.7" stroke="#262626" stroke-width="0.85"/>
<circle cx="103.8" cy="582.9" r="3.2" fill="#eeec5f" fill-opacity="0.7" stroke="#262626" stroke-width="0.85"/>
<circle cx="94" cy="585.9" r="3.2" fill="#eeec5f" fill-opacity="0.7" stroke="#262626" stroke-width="0.85"/>
<circle cx="98.8" cy="589.4" r="3.2" fill="#eeec5f" fill-opacity="0.7" stroke="#262626" stroke-width="0.85"/>
<ellipse cx="247.4" cy="534.1" rx="19.4" ry="5.5" transform="rotate(37.5 247.4 534.1)" fill="#9e69d4" fill-opacity="0.3"/>
<circle cx="237.3" cy="525.8" r="3.2" fill="#a043e1" fill-opacity="0.7" stroke="#262626" stroke-width="0.85"/>
<circle cx="240.3" cy="525.8" r="3.2" fill="#a043e1" fill-opacity="0.7" stroke="#262626" stroke-width="0.85"/>
<circle cx="236.4" cy="531.9" r="3.2" fill="#a043e1" fill-opacity="0.7" stroke="#262626" stroke-width="0.85"/>
<circle cx="246.5" cy="531.5" r="3.2" fill="#a043e1" fill-opacity="0.7" stroke="#262626" stroke-width="0.85"/>
<circle cx="257" cy="540.6" r="3.2" fill="#a043e1" fill-opacity="0.7" stroke="#262626" stroke-width="0.85"/>
<circle cx="248" cy="537" r="3.2" fill="#a043e1" fill-opacity="0.7" stroke="#262626" stroke-width="0.85"/>
<circle cx="252" cy="533" r="3.2" fill="#a043e1" fill-opacity="0.7" stroke="#262626" stroke-width="0.85"/>
<circle cx="244" cy="529" r="3.2" fill="#a043e1" fill-opacity="0.7" stroke="#262626" stroke-width="0.85"/>
<circle cx="253" cy="543.7" r="3.2" fill="#a043e1" fill-opacity="0.7" stroke="#262626" stroke-width="0.85"/>
<ellipse cx="215.9" cy="536.5" rx="26.7" ry="6.5" transform="rotate(12.3 215.9 536.5)" fill="#dea57a" fill-opacity="0.3"/>
<circle cx="197.7" cy="531.1" r="3.2" fill="#f5ae6c" fill-opacity="0.7" stroke="#262626" stroke-width="0.85"/>
<circle cx="203" cy="534.3" r="3.2" fill="#f5ae6c" fill-opacity="0.7" stroke="#262626" stroke-width="0.85"/>
<circle cx="205.6" cy="535.6" r="3.2" fill="#f5ae6c" fill-opacity="0.7" stroke="#262626" stroke-width="0.85"/>
<circle cx="213" cy="531.3" r="3.2" fill="#f5ae6c" fill-opacity="0.7" stroke="#262626" stroke-width="0.85"/>
<circle cx="212.1" cy="537.8" r="3.2" fill="#f5ae6c" fill-opacity="0.7" stroke="#262626" stroke-width="0.85"/>
<circle cx="219.2" cy="537.4" r="3.2" fill="#f5ae6c" fill-opacity="0.7" stroke="#262626" stroke-width="0.85"/>
<circle cx="225.3" cy="535.2" r="3.2" fill="#f5ae6c" fill-opacity="0.7" stroke="#262626" stroke-width="0.85"/>
<circle cx="232.7" cy="539.1" r="3.2" fill="#f5ae6c" fill-opacity="0.7" stroke="#262626" stroke-width="0.85"/>
<circle cx="210" cy="536.5" r="3.2" fill="#f5ae6c" fill-opacity="0.7" stroke="#262626" stroke-width="0.85"/>
<ellipse cx="244.4" cy="532.9" rx="34.2" ry="5.7" transform="rotate(23.2 244.4 532.9)" fill="#b2ee7a" fill-opacity="0.3"/>
<circle cx="218.7" cy="522.5" r="3.2" fill="#9cfa18" fill-opacity="0.55" stroke="#262626" stroke-width="0.85"/>
<circle cx="240.8" cy="531" r="3.2" fill="#9cfa18" fill-opacity="0.55" stroke="#262626" stroke-width="0.85"/>
<circle cx="246.5" cy="531.5" r="3.2" fill="#9cfa18" fill-opacity="0.55" stroke="#262626" stroke-width="0.85"/>
<circle cx="251.7" cy="532.3" r="3.2" fill="#9cfa18" fill-opacity="0.55" stroke="#262626" stroke-width="0.85"/>
<circle cx="247.3" cy="536.7" r="3.2" fill="#9cfa18" fill-opacity="0.55" stroke="#262626" stroke-width="0.85"/>
<circle cx="255.2" cy="535.8" r="3.2" fill="#9cfa18" fill-opacity="0.55" stroke="#262626" stroke-width="0.85"/>
<circle cx="250" cy="541.1" r="3.2" fill="#9cfa18" fill-opacity="0.55" stroke="#262626" stroke-width="0.85"/>
<circle cx="257" cy="540.6" r="3.2" fill="#9cfa18" fill-opacity="0.55" stroke="#262626" stroke-width="0.85"/>
<circle cx="252.5" cy="534" r="3.2" fill="#9cfa18" fill-opacity="0.55" stroke="#262626" stroke-width="0.85"/>
<circle cx="166" cy="475.2" r="3.2" fill="#b45ce0" stroke="#262626" stroke-width="0.85"/>
<rect x="52.6" y="374.4" width="249.8" height="250.0" fill="none" stroke="#555" stroke-width="1"/>
<line x1="55.7" y1="624.4" x2="55.7" y2="628.4" stroke="#555" stroke-width="0.9"/>
<text x="55.7" y="639.4" font-size="6.3" text-anchor="middle" fill="#333">-40</text>
<line x1="88.4" y1="624.4" x2="88.4" y2="628.4" stroke="#555" stroke-width="0.9"/>
<text x="88.4" y="639.4" font-size="6.3" text-anchor="middle" fill="#333">-30</text>
<line x1="121.1" y1="624.4" x2="121.1" y2="628.4" stroke="#555" stroke-width="0.9"/>
<text x="121.1" y="639.4" font-size="6.3" text-anchor="middle" fill="#333">-20</text>
<line x1="153.8" y1="624.4" x2="153.8" y2="628.4" stroke="#555" stroke-width="0.9"/>
<text x="153.8" y="639.4" font-size="6.3" text-anchor="middle" fill="#333">-10</text>
<line x1="186.5" y1="624.4" x2="186.5" y2="628.4" stroke="#555" stroke-width="0.9"/>
<text x="186.5" y="639.4" font-size="6.3" text-anchor="middle" fill="#333">0</text>
<line x1="219.2" y1="624.4" x2="219.2" y2="628.4" stroke="#555" stroke-width="0.9"/>
<text x="219.2" y="639.4" font-size="6.3" text-anchor="middle" fill="#333">10</text>
<line x1="251.9" y1="624.4" x2="251.9" y2="628.4" stroke="#555" stroke-width="0.9"/>
<text x="251.9" y="639.4" font-size="6.3" text-anchor="middle" fill="#333">20</text>
<line x1="284.6" y1="624.4" x2="284.6" y2="628.4" stroke="#555" stroke-width="0.9"/>
<text x="284.6" y="639.4" font-size="6.3" text-anchor="middle" fill="#333">30</text>
<line x1="48.6" y1="395.6" x2="52.6" y2="395.6" stroke="#555" stroke-width="0.9"/>
<text x="44.0" y="395.6" font-size="6.3" text-anchor="middle" fill="#333" transform="rotate(-90 44.0 395.6)">30</text>
<line x1="48.6" y1="433.8" x2="52.6" y2="433.8" stroke="#555" stroke-width="0.9"/>
<text x="44.0" y="433.8" font-size="6.3" text-anchor="middle" fill="#333" transform="rotate(-90 44.0 433.8)">20</text>
<line x1="48.6" y1="472.0" x2="52.6" y2="472.0" stroke="#555" stroke-width="0.9"/>
<text x="44.0" y="472.0" font-size="6.3" text-anchor="middle" fill="#333" transform="rotate(-90 44.0 472.0)">10</text>
<line x1="48.6" y1="510.2" x2="52.6" y2="510.2" stroke="#555" stroke-width="0.9"/>
<text x="44.0" y="510.2" font-size="6.3" text-anchor="middle" fill="#333" transform="rotate(-90 44.0 510.2)">0</text>
<line x1="48.6" y1="548.4" x2="52.6" y2="548.4" stroke="#555" stroke-width="0.9"/>
<text x="44.0" y="548.4" font-size="6.3" text-anchor="middle" fill="#333" transform="rotate(-90 44.0 548.4)">-10</text>
<line x1="48.6" y1="586.6" x2="52.6" y2="586.6" stroke="#555" stroke-width="0.9"/>
<text x="44.0" y="586.6" font-size="6.3" text-anchor="middle" fill="#333" transform="rotate(-90 44.0 586.6)">-20</text>
<text x="173.7" y="364.6" font-size="9.2" text-anchor="middle" font-weight="bold" fill="#111">Scores Plot</text>
<text x="173.8" y="654.3" font-size="9.3" text-anchor="middle" fill="#222">Component 1 (15.3%)</text>
<text x="27.1" y="495.3" font-size="9.3" text-anchor="middle" fill="#222" transform="rotate(-90 27.1 495.3)">Component 2 (10.4%)</text>
<circle cx="313.6" cy="389.0" r="1.5" fill="none" stroke="#e8507a" stroke-width="0.8"/>
<text x="319.6" y="391.3" font-size="6.6" text-anchor="start" fill="#222">0.9% NaCl</text>
<circle cx="313.6" cy="396.8" r="1.5" fill="none" stroke="#46b846" stroke-width="0.8"/>
<text x="319.6" y="399.1" font-size="6.6" text-anchor="start" fill="#222">5% Glucose</text>
<circle cx="313.6" cy="404.6" r="1.5" fill="none" stroke="#4f6ad8" stroke-width="0.8"/>
<text x="319.6" y="406.9" font-size="6.6" text-anchor="start" fill="#222">Amikacin</text>
<circle cx="313.6" cy="412.4" r="1.5" fill="none" stroke="#5ad8f0" stroke-width="0.8"/>
<text x="319.6" y="414.7" font-size="6.6" text-anchor="start" fill="#222">COVISHIELD</text>
<circle cx="313.6" cy="420.2" r="1.5" fill="none" stroke="#e43be6" stroke-width="0.8"/>
<text x="319.6" y="422.5" font-size="6.6" text-anchor="start" fill="#222">Gentamicin</text>
<circle cx="313.6" cy="428.0" r="1.5" fill="none" stroke="#e6df3a" stroke-width="0.8"/>
<text x="319.6" y="430.3" font-size="6.6" text-anchor="start" fill="#222">Hyaluronic Acid</text>
<circle cx="313.6" cy="435.8" r="1.5" fill="none" stroke="#9a35c0" stroke-width="0.8"/>
<text x="319.6" y="438.1" font-size="6.6" text-anchor="start" fill="#222">MilliQ Water</text>
<circle cx="313.6" cy="443.6" r="1.5" fill="none" stroke="#ee8a46" stroke-width="0.8"/>
<text x="319.6" y="445.9" font-size="6.6" text-anchor="start" fill="#222">Tap Water</text>
<circle cx="313.6" cy="451.4" r="1.5" fill="none" stroke="#b4e04a" stroke-width="0.8"/>
<text x="319.6" y="453.7" font-size="6.6" text-anchor="start" fill="#222">Water p.i</text>
<text x="238" y="559.6" font-size="9.25" text-anchor="start" font-weight="bold" fill="#ff2020">Tap water</text>
<text x="238" y="570.6" font-size="9.25" text-anchor="start" font-weight="bold" fill="#ff2020">MilliQ water</text>
<text x="238" y="581.6" font-size="9.25" text-anchor="start" font-weight="bold" fill="#ff2020">Water</text>
<text x="238" y="592.6" font-size="9.25" text-anchor="start" font-weight="bold" fill="#ff2020">0.9% NaCl</text>
<text x="120" y="587" font-size="9.2" text-anchor="start" font-weight="bold" fill="#ff2020">Hyaluronic acid</text>
<text x="65.4" y="501" font-size="10.2" text-anchor="start" font-weight="bold" fill="#2121f0">COVISHIELD</text>
<text x="174.4" y="503.3" font-size="9.2" text-anchor="start" font-weight="bold" fill="#ff2020">Amikacin</text>
<text x="206.6" y="415.7" font-size="9.2" text-anchor="start" font-weight="bold" fill="#ff2020">5% Glucose</text>
<text x="108.4" y="431" font-size="9.2" text-anchor="start" font-weight="bold" fill="#ff2020">Gentamicin</text>
<rect x="459.00" y="460.12" width="4.5" height="21.28" fill="#a8dde5" stroke="#444" stroke-width="0.7"/>
<rect x="463.50" y="476.92" width="4.5" height="4.48" fill="#f8e0dd" stroke="#444" stroke-width="0.7"/>
<rect x="468.00" y="479.16" width="4.5" height="2.24" fill="#dcf8f8" stroke="#444" stroke-width="0.7"/>
<text x="465.75" y="494.2" font-size="5.8" text-anchor="middle" fill="#333">1</text>
<rect x="477.00" y="442.20" width="4.5" height="39.20" fill="#a8dde5" stroke="#444" stroke-width="0.7"/>
<rect x="481.50" y="470.76" width="4.5" height="10.64" fill="#f8e0dd" stroke="#444" stroke-width="0.7"/>
<rect x="486.00" y="474.68" width="4.5" height="6.72" fill="#dcf8f8" stroke="#444" stroke-width="0.7"/>
<text x="483.75" y="494.2" font-size="5.8" text-anchor="middle" fill="#333">2</text>
<rect x="495.00" y="423.16" width="4.5" height="58.24" fill="#a8dde5" stroke="#444" stroke-width="0.7"/>
<rect x="499.50" y="469.08" width="4.5" height="12.32" fill="#f8e0dd" stroke="#444" stroke-width="0.7"/>
<rect x="504.00" y="473.56" width="4.5" height="7.84" fill="#dcf8f8" stroke="#444" stroke-width="0.7"/>
<text x="501.75" y="494.2" font-size="5.8" text-anchor="middle" fill="#333">3</text>
<rect x="513.00" y="410.84" width="4.5" height="70.56" fill="#a8dde5" stroke="#444" stroke-width="0.7"/>
<rect x="517.50" y="459.00" width="4.5" height="22.40" fill="#f8e0dd" stroke="#444" stroke-width="0.7"/>
<rect x="522.00" y="470.76" width="4.5" height="10.64" fill="#dcf8f8" stroke="#444" stroke-width="0.7"/>
<text x="519.75" y="494.2" font-size="5.8" text-anchor="middle" fill="#333">4</text>
<rect x="531.00" y="403.00" width="4.5" height="78.40" fill="#a8dde5" stroke="#444" stroke-width="0.7"/>
<rect x="535.50" y="429.88" width="4.5" height="51.52" fill="#f8e0dd" stroke="#444" stroke-width="0.7"/>
<rect x="540.00" y="447.80" width="4.5" height="33.60" fill="#dcf8f8" stroke="#444" stroke-width="0.7"/>
<text x="537.75" y="494.2" font-size="5.8" text-anchor="middle" fill="#333">5</text>
<rect x="549.00" y="386.42" width="4.5" height="94.98" fill="#a8dde5" stroke="#444" stroke-width="0.7"/>
<rect x="553.50" y="411.40" width="4.5" height="70.00" fill="#f8e0dd" stroke="#444" stroke-width="0.7"/>
<rect x="558.00" y="419.46" width="4.5" height="61.94" fill="#dcf8f8" stroke="#444" stroke-width="0.7"/>
<text x="555.75" y="494.2" font-size="5.8" text-anchor="middle" fill="#333">6</text>
<rect x="567.00" y="385.64" width="4.5" height="95.76" fill="#a8dde5" stroke="#444" stroke-width="0.7"/>
<rect x="571.50" y="379.48" width="4.5" height="101.92" fill="#f8e0dd" stroke="#444" stroke-width="0.7"/>
<rect x="576.00" y="381.38" width="4.5" height="100.02" fill="#dcf8f8" stroke="#444" stroke-width="0.7"/>
<text x="573.75" y="494.2" font-size="5.8" text-anchor="middle" fill="#333">7</text>
<rect x="585.00" y="379.03" width="4.5" height="102.37" fill="#a8dde5" stroke="#444" stroke-width="0.7"/>
<rect x="589.50" y="379.03" width="4.5" height="102.37" fill="#f8e0dd" stroke="#444" stroke-width="0.7"/>
<rect x="594.00" y="382.06" width="4.5" height="99.34" fill="#dcf8f8" stroke="#444" stroke-width="0.7"/>
<text x="591.75" y="494.2" font-size="5.8" text-anchor="middle" fill="#333">8</text>
<line x1="454.4" y1="369.4" x2="454.4" y2="481.4" stroke="#555" stroke-width="0.9"/>
<line x1="451" y1="481.4" x2="454.4" y2="481.4" stroke="#555" stroke-width="0.8"/>
<text x="447" y="481.4" font-size="5.8" text-anchor="middle" fill="#333" transform="rotate(-90 447 481.4)">0.0</text>
<line x1="451" y1="459.0" x2="454.4" y2="459.0" stroke="#555" stroke-width="0.8"/>
<text x="447" y="459.0" font-size="5.8" text-anchor="middle" fill="#333" transform="rotate(-90 447 459.0)">0.2</text>
<line x1="451" y1="436.6" x2="454.4" y2="436.6" stroke="#555" stroke-width="0.8"/>
<text x="447" y="436.6" font-size="5.8" text-anchor="middle" fill="#333" transform="rotate(-90 447 436.6)">0.4</text>
<line x1="451" y1="414.2" x2="454.4" y2="414.2" stroke="#555" stroke-width="0.8"/>
<text x="447" y="414.2" font-size="5.8" text-anchor="middle" fill="#333" transform="rotate(-90 447 414.2)">0.6</text>
<line x1="451" y1="391.8" x2="454.4" y2="391.8" stroke="#555" stroke-width="0.8"/>
<text x="447" y="391.8" font-size="5.8" text-anchor="middle" fill="#333" transform="rotate(-90 447 391.8)">0.8</text>
<line x1="451" y1="369.4" x2="454.4" y2="369.4" stroke="#555" stroke-width="0.8"/>
<text x="447" y="369.4" font-size="5.8" text-anchor="middle" fill="#333" transform="rotate(-90 447 369.4)">1.0</text>
<path d="M578.30 378.80 L578.30 376.30 M578.30 378.80 L580.68 378.03 M578.30 378.80 L579.77 380.82 M578.30 378.80 L576.83 380.82 M578.30 378.80 L575.92 378.03" stroke="#ff2020" stroke-width="1.3" stroke-linecap="round" fill="none"/>
<rect x="602.4" y="369.4" width="39.2" height="26" fill="#fff" stroke="#555" stroke-width="0.8"/>
<rect x="607.9" y="374.4" width="3.4" height="3.2" fill="#a8dde5" stroke="#444" stroke-width="0.5"/>
<text x="616.4" y="377.9" font-size="5.4" text-anchor="start" fill="#222">Accuracy</text>
<rect x="607.9" y="381.0" width="3.4" height="3.2" fill="#f8e0dd" stroke="#444" stroke-width="0.5"/>
<text x="616.4" y="384.5" font-size="5.4" text-anchor="start" fill="#222">R2</text>
<rect x="607.9" y="387.6" width="3.4" height="3.2" fill="#dcf8f8" stroke="#444" stroke-width="0.5"/>
<text x="616.4" y="391.1" font-size="5.4" text-anchor="start" fill="#222">Q2</text>
<text x="531.5" y="507.6" font-size="9.2" text-anchor="middle" fill="#222">No. of components</text>
<text x="434.8" y="433.3" font-size="9.2" text-anchor="middle" fill="#222" transform="rotate(-90 434.8 433.3)">Performance</text>
<line x1="450" y1="549" x2="450" y2="667.4" stroke="#555" stroke-width="0.9"/>
<line x1="446.5" y1="667.4" x2="450" y2="667.4" stroke="#555" stroke-width="0.8"/>
<text x="443" y="667.4" font-size="5.0" text-anchor="middle" fill="#333" transform="rotate(-90 443 667.4)">0</text>
<line x1="446.5" y1="647.7" x2="450" y2="647.7" stroke="#555" stroke-width="0.8"/>
<text x="443" y="647.7" font-size="5.0" text-anchor="middle" fill="#333" transform="rotate(-90 443 647.7)">5</text>
<line x1="446.5" y1="628.0" x2="450" y2="628.0" stroke="#555" stroke-width="0.8"/>
<text x="443" y="628.0" font-size="5.0" text-anchor="middle" fill="#333" transform="rotate(-90 443 628.0)">10</text>
<line x1="446.5" y1="608.3" x2="450" y2="608.3" stroke="#555" stroke-width="0.8"/>
<text x="443" y="608.3" font-size="5.0" text-anchor="middle" fill="#333" transform="rotate(-90 443 608.3)">15</text>
<line x1="446.5" y1="588.6" x2="450" y2="588.6" stroke="#555" stroke-width="0.8"/>
<text x="443" y="588.6" font-size="5.0" text-anchor="middle" fill="#333" transform="rotate(-90 443 588.6)">20</text>
<line x1="446.5" y1="568.9" x2="450" y2="568.9" stroke="#555" stroke-width="0.8"/>
<text x="443" y="568.9" font-size="5.0" text-anchor="middle" fill="#333" transform="rotate(-90 443 568.9)">25</text>
<line x1="446.5" y1="549.2" x2="450" y2="549.2" stroke="#555" stroke-width="0.8"/>
<text x="443" y="549.2" font-size="5.0" text-anchor="middle" fill="#333" transform="rotate(-90 443 549.2)">30</text>
<line x1="456.4" y1="672" x2="624.4" y2="672" stroke="#555" stroke-width="0.9"/>
<line x1="456.4" y1="672" x2="456.4" y2="675.5" stroke="#555" stroke-width="0.8"/>
<text x="456.4" y="683.2" font-size="5.0" text-anchor="middle" fill="#333">0</text>
<line x1="484.4" y1="672" x2="484.4" y2="675.5" stroke="#555" stroke-width="0.8"/>
<text x="484.4" y="683.2" font-size="5.0" text-anchor="middle" fill="#333">10</text>
<line x1="512.4" y1="672" x2="512.4" y2="675.5" stroke="#555" stroke-width="0.8"/>
<text x="512.4" y="683.2" font-size="5.0" text-anchor="middle" fill="#333">20</text>
<line x1="540.4" y1="672" x2="540.4" y2="675.5" stroke="#555" stroke-width="0.8"/>
<text x="540.4" y="683.2" font-size="5.0" text-anchor="middle" fill="#333">30</text>
<line x1="568.4" y1="672" x2="568.4" y2="675.5" stroke="#555" stroke-width="0.8"/>
<text x="568.4" y="683.2" font-size="5.0" text-anchor="middle" fill="#333">40</text>
<line x1="596.4" y1="672" x2="596.4" y2="675.5" stroke="#555" stroke-width="0.8"/>
<text x="596.4" y="683.2" font-size="5.0" text-anchor="middle" fill="#333">50</text>
<line x1="624.4" y1="672" x2="624.4" y2="675.5" stroke="#555" stroke-width="0.8"/>
<text x="624.4" y="683.2" font-size="5.0" text-anchor="middle" fill="#333">60</text>
<line x1="456" y1="667" x2="620.4" y2="667" stroke="#777" stroke-width="0.9"/>
<rect x="457.2" y="545" width="1.0" height="122" fill="#111"/>
<rect x="457.2" y="612" width="1.3" height="55" fill="#111"/>
<rect x="457.2" y="643" width="1.7" height="24" fill="#111"/>
<rect x="457.2" y="650" width="2.1" height="17" fill="#111"/>
<rect x="457.2" y="662" width="2.8" height="5" fill="#111"/>
<line x1="621" y1="642.4" x2="621" y2="667" stroke="#f03030" stroke-width="1.1"/>
<path d="M617 660 L621 667 L625 660" fill="none" stroke="#f03030" stroke-width="1.1"/>
<text x="620.6" y="628.3" font-size="4.85" text-anchor="middle" fill="#222">Observed</text>
<text x="620.9" y="634.2" font-size="4.85" text-anchor="middle" fill="#222">statistic</text>
<text x="621.5" y="639.8" font-size="4.85" text-anchor="middle" fill="#222">p &lt; 0.01 (0/100)</text>
<text x="558.4" y="580" font-size="10.2" font-weight="bold" fill="#111"><tspan font-style="italic">p</tspan> &lt; 0.01</text>
<text x="531.5" y="696.3" font-size="9.2" text-anchor="middle" fill="#222">Permutation test statistics</text>
<text x="434.6" y="614.7" font-size="9.2" text-anchor="middle" fill="#222" transform="rotate(-90 434.6 614.7)">Frequency</text>
<text x="1" y="13.3" font-size="16" text-anchor="start" font-weight="bold" fill="#000">a</text>
<text x="385" y="13.2" font-size="16" text-anchor="start" font-weight="bold" fill="#000">b</text>
<text x="1" y="361.2" font-size="16" text-anchor="start" font-weight="bold" fill="#000">c</text>
<text x="385" y="361" font-size="16" text-anchor="start" font-weight="bold" fill="#000">d</text>
<text x="385" y="527.8" font-size="16" text-anchor="start" font-weight="bold" fill="#000">e</text>
</svg></body></html>
